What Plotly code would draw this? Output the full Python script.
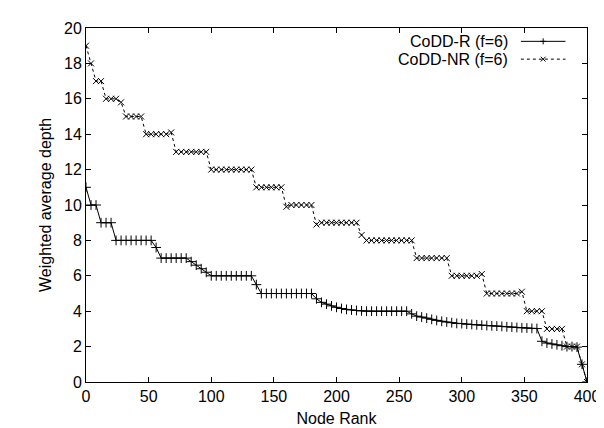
import plotly.graph_objects as go

# Node rank (sampled every 4 ranks)
node_rank = [
    0, 4, 8, 12, 16, 20, 24, 28, 32, 36, 40, 44, 48, 52, 56, 60, 64, 68, 72, 76,
    80, 84, 88, 92, 96, 100, 104, 108, 112, 116, 120, 124, 128, 132, 136, 140, 144, 148, 152, 156,
    160, 164, 168, 172, 176, 180, 184, 188, 192, 196, 200, 204, 208, 212, 216, 220, 224, 228, 232, 236,
    240, 244, 248, 252, 256, 260, 264, 268, 272, 276, 280, 284, 288, 292, 296, 300, 304, 308, 312, 316,
    320, 324, 328, 332, 336, 340, 344, 348, 352, 356, 360, 364, 368, 372, 376, 380, 384, 388, 392, 396,
    400,
]

codd_r = [
    11, 10, 10, 9, 9, 9, 8, 8, 8, 8, 8, 8, 8, 8, 7.6, 7, 7, 7, 7, 7,
    7, 6.8, 6.6, 6.4, 6.2, 6, 6, 6, 6, 6, 6, 6, 6, 6, 5.5, 5, 5, 5, 5, 5,
    5, 5, 5, 5, 5, 5, 4.7, 4.5, 4.4, 4.3, 4.22, 4.15, 4.1, 4.07, 4.04, 4.02, 4, 4, 4, 4,
    4, 4, 4, 4, 4, 3.85, 3.72, 3.67, 3.61, 3.54, 3.48, 3.43, 3.39, 3.35, 3.31, 3.3, 3.27, 3.25, 3.23, 3.21,
    3.19, 3.17, 3.16, 3.14, 3.12, 3.1, 3.08, 3.06, 3.05, 3.03, 3.02, 2.3, 2.2, 2.15, 2.1, 2.05, 2.0, 2.0, 1.97, 1.0,
    0,
]

codd_nr = [
    19, 18, 17, 17, 16, 16, 16, 15.8, 15, 15, 15, 15, 14, 14, 14, 14, 14, 14.1, 13, 13,
    13, 13, 13, 13, 13, 12, 12, 12, 12, 12, 12, 12, 12, 12, 11, 11, 11, 11, 11, 11,
    9.9, 10, 10, 10, 10, 10, 8.9, 9, 9, 9, 9, 9, 9, 9, 9, 8.3, 8, 8, 8, 8,
    8, 8, 8, 8, 8, 8, 7, 7, 7, 7, 7, 7, 7, 6, 6, 6, 6, 6, 6, 6.1,
    5, 5, 5, 5, 5, 5, 5, 5.1, 4, 4, 4, 4, 3, 3, 3, 3, 2, 2, 2, 1,
    0,
]

FONT = "Liberation Sans, Arial, Helvetica, sans-serif"

fig = go.Figure()

fig.add_trace(go.Scatter(
    x=node_rank, y=codd_r, mode="lines+markers", name="CoDD-R (f=6)",
    line=dict(color="black", width=1),
    marker=dict(symbol="cross-thin", size=7, color="black",
                line=dict(color="black", width=1)),
))

fig.add_trace(go.Scatter(
    x=node_rank, y=codd_nr, mode="lines+markers", name="CoDD-NR (f=6)",
    line=dict(color="black", width=1, dash="3px,3px"),
    marker=dict(symbol="x-thin", size=6, color="black",
                line=dict(color="black", width=1)),
))

# gnuplot style key: text right-aligned, sample to its right
key_rows = [("CoDD-R (f=6)", 0.9623, "solid", "+"), ("CoDD-NR (f=6)", 0.912, "3px,3px", "x")]
for label, ky, dash, sym in key_rows:
    fig.add_annotation(
        text=label, xref="paper", yref="paper", x=0.847, y=ky,
        xanchor="right", yanchor="middle", showarrow=False,
        font=dict(family=FONT, size=16, color="black"),
    )
    fig.add_shape(type="line", xref="paper", yref="paper",
                  x0=0.868, x1=0.957, y0=ky, y1=ky,
                  line=dict(color="black", width=1, dash=dash))
    dx, dy = 0.006, 0.0085
    if sym == "+":
        segs = [(0.9125 - dx, ky, 0.9125 + dx, ky), (0.9125, ky - dy, 0.9125, ky + dy)]
    else:
        segs = [(0.9125 - dx * 0.8, ky - dy * 0.8, 0.9125 + dx * 0.8, ky + dy * 0.8),
                (0.9125 - dx * 0.8, ky + dy * 0.8, 0.9125 + dx * 0.8, ky - dy * 0.8)]
    for x0, y0, x1, y1 in segs:
        fig.add_shape(type="line", xref="paper", yref="paper",
                      x0=x0, y0=y0, x1=x1, y1=y1,
                      line=dict(color="black", width=1))

axis_common = dict(
    showline=True, linecolor="black", linewidth=1, mirror="allticks",
    ticks="inside", ticklen=5, tickcolor="black", tickwidth=1,
    showgrid=False, zeroline=False,
    tickfont=dict(family=FONT, size=16, color="black"),
)

fig.update_xaxes(range=[0, 400], dtick=50, title=dict(text="Node Rank",
                 font=dict(family=FONT, size=16, color="black"), standoff=8),
                 **axis_common)
fig.update_yaxes(range=[0, 20], dtick=2, title=dict(text="Weighted average depth",
                 font=dict(family=FONT, size=16, color="black"), standoff=8),
                 **axis_common)

fig.update_layout(
    width=604, height=428,
    margin=dict(l=78, r=17, t=16, b=54),
    plot_bgcolor="white", paper_bgcolor="white",
    showlegend=False,
    font=dict(family=FONT, size=16, color="black"),
)

fig.write_html("out.html")
